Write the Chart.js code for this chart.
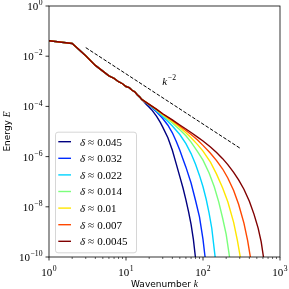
<!DOCTYPE html>
<html><head><meta charset="utf-8">
<script src="https://cdn.jsdelivr.net/npm/chart.js@4.4.1/dist/chart.umd.min.js"></script>
<style>html,body{margin:0;padding:0;background:#fff;overflow:hidden}#wrap{width:289px;height:289px}</style>
</head><body>
<div id="wrap"><canvas id="c" width="289" height="289"></canvas></div>
<script>
// shared low-wavenumber part (all runs coincide here)
const kHead = [1,2,3,4,5,6,7,8,9,10,11,12,13,14,15,16];
const eHead = [4.1e-2,3.2e-2,1.05e-2,4.3e-3,2.55e-3,1.65e-3,1.3e-3,9.6e-4,8.0e-4,6.2e-4,5.6e-4,4.4e-4,3.8e-4,2.9e-4,2.4e-4,1.9e-4];

// tails per run
const kDB = [18,20,22,25,28,30,35,40,45,50,55,60,65,70,75,80,85];
const eDB = [1.26e-4,9.3e-5,6.8e-5,4.0e-5,2.24e-5,1.5e-5,5.6e-6,1.8e-6,5.0e-7,1.6e-7,5.6e-8,1.9e-8,6.3e-9,2.0e-9,5.0e-10,8.9e-11,1.6e-11];
const kB = [18,20,25,30,35,40,45,50,55,60,70,80,90,100,106,112];
const eB = [1.45e-4,1.1e-4,6.0e-5,3.3e-5,1.78e-5,8.9e-6,4.0e-6,1.78e-6,7.9e-7,3.8e-7,8.9e-8,1.78e-8,4.0e-9,5.0e-10,1.1e-10,2.5e-11];
const kC = [20,25,30,35,40,50,60,70,80,90,100,110,120,130,140,145,150];
const eC = [1.15e-4,6.6e-5,4.0e-5,2.5e-5,1.66e-5,7.6e-6,3.3e-6,1.32e-6,5.0e-7,1.78e-7,6.3e-8,2.0e-8,5.6e-9,1.4e-9,2.0e-10,7.9e-11,3.2e-11];
const kG = [20,25,30,40,50,60,70,85,100,120,140,160,180,200,220,240];
const eG = [1.17e-4,7.1e-5,4.5e-5,2.2e-5,1.17e-5,6.8e-6,3.8e-6,1.58e-6,7.2e-7,2.24e-7,6.3e-8,1.58e-8,3.5e-9,7.9e-10,1.1e-10,1.6e-11];
const kY = [20,25,30,40,50,60,70,85,100,125,150,180,210,250,280,305,330];
const eY = [1.2e-4,7.4e-5,4.8e-5,2.5e-5,1.45e-5,8.9e-6,5.6e-6,3.0e-6,1.66e-6,6.0e-7,2.0e-7,5.6e-8,1.58e-8,2.4e-9,4.5e-10,1.0e-10,2.0e-11];
const kO = [20,25,30,40,50,60,70,85,100,125,150,180,210,250,290,340,380,410,440];
const eO = [1.2e-4,7.6e-5,5.0e-5,2.75e-5,1.66e-5,1.1e-5,7.6e-6,4.6e-6,2.8e-6,1.35e-6,6.9e-7,3.2e-7,1.41e-7,4.5e-8,1.26e-8,2.24e-9,4.5e-10,1.1e-10,2.5e-11];
const kR = [20,25,30,40,50,60,70,85,100,125,150,180,210,250,290,340,400,460,520,570,610,650];
const eR = [1.2e-4,7.6e-5,5.1e-5,2.9e-5,1.82e-5,1.26e-5,9.1e-6,6.0e-6,4.2e-6,2.4e-6,1.45e-6,8.3e-7,4.8e-7,2.34e-7,1.17e-7,5.0e-8,1.66e-8,5.0e-9,1.41e-9,4.0e-10,1.0e-10,2.5e-11];

const deltaLabels = ['0.045','0.032','0.022','0.014','0.01','0.007','0.0045'];
const seriesColors = ['#000080','#002bff','#00d4ff','#7bff7b','#ffe600','#ff4800','#800000'];

// reference slope line  E ~ k^-2
const refK = [3,300];
const refE = [2.2e-2,2.2e-6];
const refLabelK = 29.5, refLabelE = 7e-4;

const xMajor = [1,10,100,1000];
const yMajor = [1,1e-2,1e-4,1e-6,1e-8,1e-10];

const tails = [[kDB,eDB],[kB,eB],[kC,eC],[kG,eG],[kY,eY],[kO,eO],[kR,eR]];
function pts(ks,es){return ks.map((k,i)=>({x:k,y:es[i]}));}

const datasets = tails.map((t,i)=>({
  label:'δ ≈ '+deltaLabels[i],
  data: pts(kHead,eHead).concat(pts(t[0],t[1])),
  borderColor: seriesColors[i], backgroundColor: seriesColors[i],
  borderWidth:1.4, pointRadius:0, showLine:true, tension:0, fill:false,
  order: 10 - i, clip: 0
}));
datasets.push({label:'ref', data:pts(refK,refE), borderColor:'#000', borderWidth:1,
  borderDash:[3.6,1.7], pointRadius:0, showLine:true, fill:false, order:0, clip:0});

const SERIF = '"Liberation Serif", "DejaVu Serif", serif';
const SANS = '"DejaVu Sans", sans-serif';
const MINUS = '\u2212';

function powParts(v){const e=Math.round(Math.log10(v));return e<0?MINUS+(-e):String(e);}

function drawPow(ctx, base, exp, x, y, align, size){
  ctx.font = size+'px '+SERIF;
  const wb = ctx.measureText(base).width;
  const ssize = size*0.7;
  ctx.font = ssize+'px '+SERIF;
  const we = ctx.measureText(exp).width;
  const w = wb+we+0.5;
  let x0 = align==='center'? x-w/2 : (align==='right'? x-w : x);
  ctx.textAlign='left'; ctx.textBaseline='alphabetic';
  ctx.font = size+'px '+SERIF; ctx.fillText(base, x0, y);
  ctx.font = ssize+'px '+SERIF; ctx.fillText(exp, x0+wb+0.5, y-size*0.42);
}

const decor = {
  id:'decor',
  afterDatasetsDraw(chart){
    const ctx = chart.ctx, a = chart.chartArea, xs = chart.scales.x, ys = chart.scales.y;
    ctx.save();
    ctx.strokeStyle='#000'; ctx.fillStyle='#000';
    // minor x ticks
    ctx.lineWidth=0.6;
    for(let d=0; d<3; d++) for(let m=2;m<=9;m++){
      const px = xs.getPixelForValue(m*Math.pow(10,d));
      ctx.beginPath(); ctx.moveTo(px,a.bottom); ctx.lineTo(px,a.bottom+2); ctx.stroke();
    }
    ctx.lineWidth=0.8;
    xMajor.forEach(v=>{const px=xs.getPixelForValue(v);
      ctx.beginPath(); ctx.moveTo(px,a.bottom); ctx.lineTo(px,a.bottom+3.5); ctx.stroke();
      drawPow(ctx,'10',powParts(v),px,a.bottom+18.7,'center',11);
    });
    yMajor.forEach(v=>{const py=ys.getPixelForValue(v);
      ctx.beginPath(); ctx.moveTo(a.left-3.5,py); ctx.lineTo(a.left,py); ctx.stroke();
      drawPow(ctx,'10',powParts(v),a.left-6.5,py+3.9,'right',11);
    });
    // frame
    ctx.lineWidth=0.8;
    ctx.strokeRect(a.left,a.top,a.right-a.left,a.bottom-a.top);
    // axis titles
    ctx.textBaseline='alphabetic'; ctx.textAlign='left';
    ctx.font='9px '+SANS; const t1='Wavenumber '; const w1=ctx.measureText(t1).width;
    ctx.font='italic 9.5px '+SERIF; const w2=ctx.measureText('k').width;
    let cx=(a.left+a.right)/2 - (w1+w2)/2;
    ctx.font='9px '+SANS; ctx.fillText(t1,cx,286.5);
    ctx.font='italic 9.5px '+SERIF; ctx.fillText('k',cx+w1,286.5);
    ctx.save(); ctx.translate(10,(a.top+a.bottom)/2); ctx.rotate(-Math.PI/2);
    ctx.font='9px '+SANS; const t3='Energy '; const w3=ctx.measureText(t3).width;
    ctx.font='italic 9.5px '+SERIF; const w4=ctx.measureText('E').width;
    let sx=-(w3+w4)/2;
    ctx.font='9px '+SANS; ctx.fillText(t3,sx,0);
    ctx.font='italic 9.5px '+SERIF; ctx.fillText('E',sx+w3,0);
    ctx.restore();
    // k^-2 label
    const lx=xs.getPixelForValue(refLabelK), ly=ys.getPixelForValue(refLabelE);
    ctx.font='italic 11px '+SERIF; const wk=ctx.measureText('k').width;
    ctx.fillText('k',lx,ly);
    ctx.font='7.7px '+SERIF; ctx.fillText(MINUS+'2',lx+wk+0.8,ly-4.8);
    // legend
    const L={x:a.left+6,y:a.top+125.7,w:81,h:120.6,r:2.5};
    ctx.beginPath(); ctx.roundRect(L.x+0.5,L.y+0.5,L.w,L.h,L.r);
    ctx.fillStyle='rgba(255,255,255,0.8)'; ctx.fill();
    ctx.strokeStyle='#cccccc'; ctx.lineWidth=0.8; ctx.stroke();
    deltaLabels.forEach((lab,i)=>{
      const cy=L.y+10+i*16.6;
      ctx.strokeStyle=seriesColors[i]; ctx.lineWidth=1.4;
      ctx.beginPath(); ctx.moveTo(L.x+3.3,cy); ctx.lineTo(L.x+16,cy); ctx.stroke();
      ctx.fillStyle='#000';
      ctx.font='italic 11px '+SERIF; const wd=ctx.measureText('δ').width;
      ctx.fillText('δ',L.x+25,cy+3.9);
      ctx.font='11px '+SERIF;
      const wa=ctx.measureText('≈').width;
      ctx.fillText('≈',L.x+25+wd+3,cy+3.9);
      ctx.fillText(lab,L.x+25+wd+3+wa+3,cy+3.9);
    });
    ctx.restore();
  }
};

new Chart(document.getElementById('c'),{
  type:'scatter',
  data:{datasets},
  options:{
    responsive:false, animation:false, devicePixelRatio:1,
    layout:{padding:{left:49,right:9,top:6,bottom:32}},
    plugins:{legend:{display:false},tooltip:{enabled:false}},
    scales:{
      x:{type:'logarithmic',min:1,max:1000,display:false},
      y:{type:'logarithmic',min:1e-10,max:1,display:false}
    }
  },
  plugins:[decor]
});
</script>
</body></html>
